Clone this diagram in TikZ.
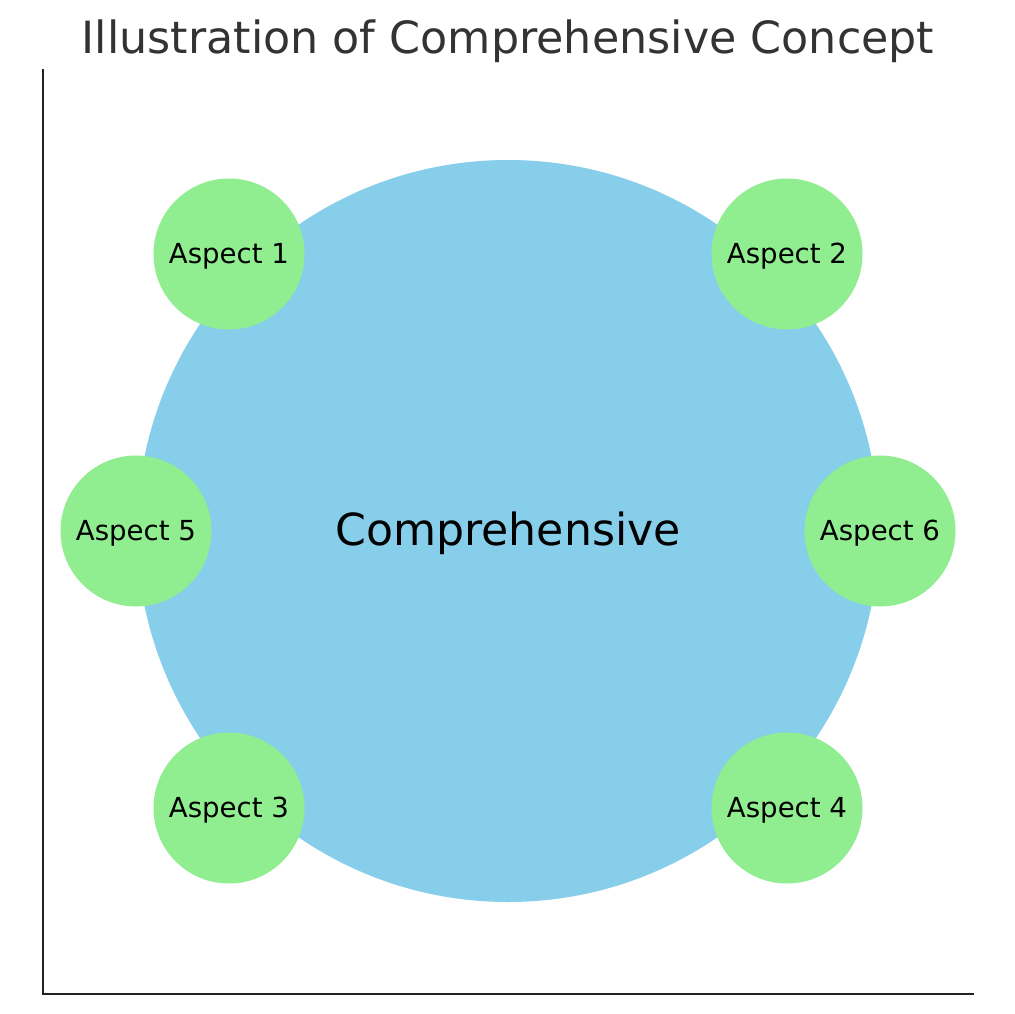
\documentclass[tikz,border=0pt]{standalone}
\usepackage{fontspec}
\setmainfont{DejaVu Sans}
\definecolor{skyb}{HTML}{87CEEB}
\definecolor{lgreen}{HTML}{90EE90}
\definecolor{titlegray}{HTML}{333333}
\definecolor{spinec}{HTML}{222222}
\tikzset{
  aspect/.style={circle, fill=lgreen, minimum size=151pt, inner sep=0pt,
    font=\fontsize{27.6}{33}\selectfont, text=black, text height=26pt, text depth=6.5pt},
  spine/.style={draw=spinec, line width=2.8pt, line cap=rect},
}
\begin{document}
\begin{tikzpicture}[x=1pt,y=-1pt]
\useasboundingbox (0,0) rectangle (1014,1014);
\fill[white] (0,0) rectangle (1014,1014);
\coordinate (top) at (43,70);
\coordinate (corner) at (43,994);
\coordinate (right) at (973,994);
\draw[spine] (top) -- (corner) -- (right);
\node[anchor=base, text=titlegray, font=\fontsize{44.4}{53}\selectfont] (title) at (508,54) {Illustration of Comprehensive Concept};
\node[circle, fill=skyb, minimum size=742pt, inner sep=0pt, font=\fontsize{44.2}{53}\selectfont, text=black, text height=39.6pt, text depth=10.4pt] (main) at (508,531) {Comprehensive};
\node[aspect] (a1) at (229,254) {Aspect 1};
\node[aspect] (a2) at (787,254) {Aspect 2};
\node[aspect] (a5) at (136,531) {Aspect 5};
\node[aspect] (a6) at (880,531) {Aspect 6};
\node[aspect] (a3) at (229,808) {Aspect 3};
\node[aspect] (a4) at (787,808) {Aspect 4};
\end{tikzpicture}
\end{document}
